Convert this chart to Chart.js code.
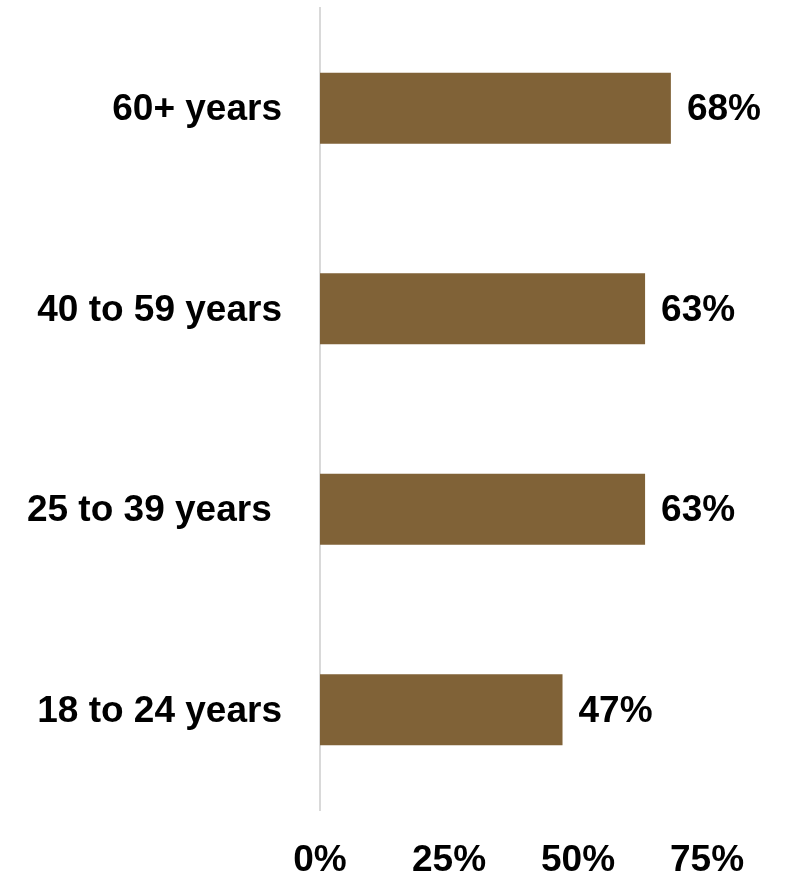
<!DOCTYPE html>
<html>
<head>
<meta charset="utf-8">
<script src="https://cdn.jsdelivr.net/npm/chart.js@4"></script>
<style>
    html, body { margin: 0; padding: 0; background: #fff; }
    #wrap { width: 790px; height: 875px; }
</style>
</head>
<body>
<div id="wrap"><canvas id="chart" width="790" height="875"></canvas></div>
<script>
const ageGroups = ['60+ years', '40 to 59 years', '25 to 39 years ', '18 to 24 years'];
const shares = [68, 63, 63, 47];
const tickValues = [0, 25, 50, 75];

const barColor = '#806237';
const fontFamily = '"Liberation Sans", Arial, sans-serif';

// value labels to the right of each bar
const valueLabels = {
    id: 'valueLabels',
    afterDatasetsDraw(chart) {
        const ctx = chart.ctx;
        const meta = chart.getDatasetMeta(0);
        ctx.save();
        ctx.font = 'bold 37px ' + fontFamily;
        ctx.fillStyle = '#000';
        ctx.textAlign = 'left';
        ctx.textBaseline = 'middle';
        meta.data.forEach((bar, i) => {
            ctx.fillText(shares[i] + '%', bar.x + 16, bar.y + 2);
        });
        ctx.restore();
    }
};

const ctx = document.getElementById('chart').getContext('2d');
new Chart(ctx, {
    type: 'bar',
    data: {
        labels: ageGroups,
        datasets: [{
            data: shares,
            backgroundColor: barColor,
            categoryPercentage: 1,
            barPercentage: 0.355
        }]
    },
    options: {
        indexAxis: 'y',
        responsive: false,
        animation: false,
        layout: { padding: { top: 8, right: 83, left: 0, bottom: 0 } },
        scales: {
            x: {
                min: 0,
                max: 75,
                afterBuildTicks: (scale) => {
                    scale.ticks = tickValues.map((v) => ({ value: v }));
                },
                afterFit: (scale) => {
                    scale.height = 65;
                    scale.paddingLeft = 0;
                    scale.paddingRight = 0;
                },
                grid: { display: false, drawTicks: false },
                border: { display: false },
                ticks: {
                    padding: 29,
                    color: '#000',
                    font: { family: fontFamily, size: 37, weight: 'bold' },
                    callback: (v) => v + '%'
                }
            },
            y: {
                afterFit: (scale) => {
                    scale.width = 320;
                    scale.paddingTop = 0;
                    scale.paddingBottom = 0;
                },
                grid: { display: false, drawTicks: false },
                border: { display: true, color: '#d9d9d9', width: 2 },
                ticks: {
                    padding: 38,
                    labelOffset: 2,
                    color: '#000',
                    font: { family: fontFamily, size: 37, weight: 'bold' }
                }
            }
        },
        plugins: {
            legend: { display: false },
            tooltip: { enabled: false }
        }
    },
    plugins: [valueLabels]
});
</script>
</body>
</html>
